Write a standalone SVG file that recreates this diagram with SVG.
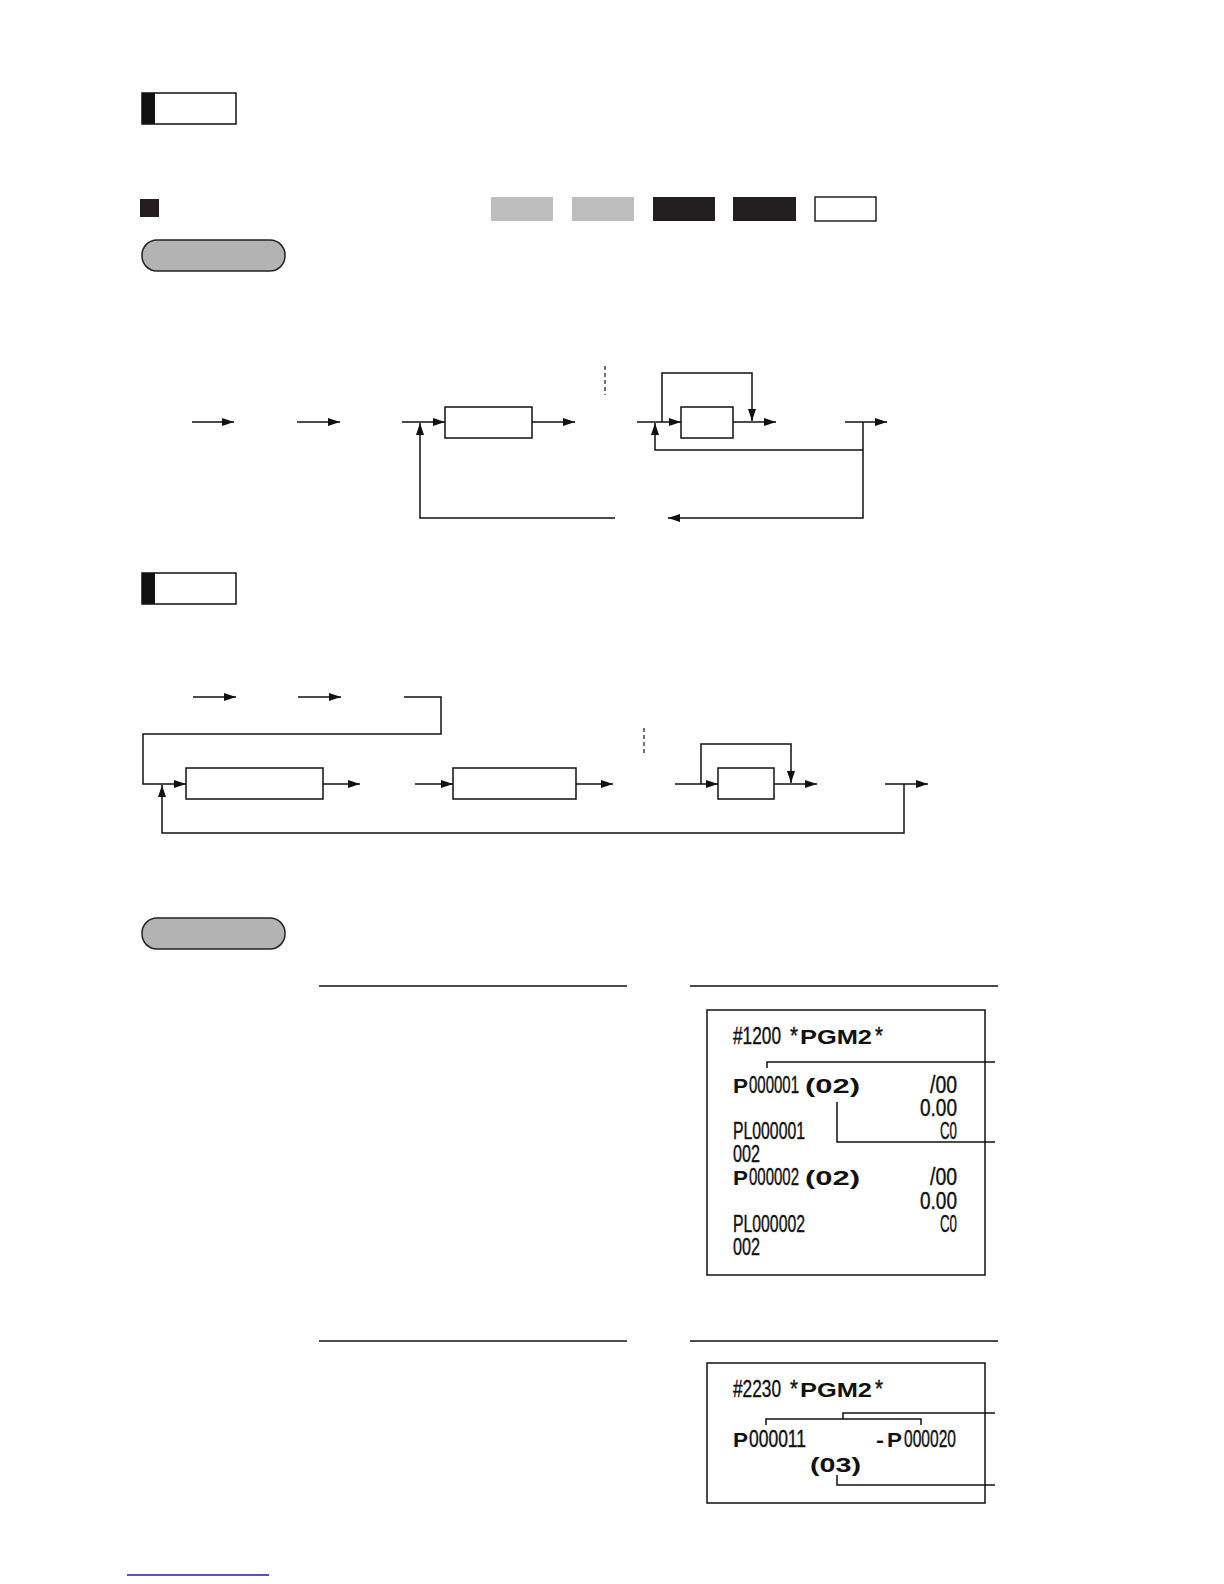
<svg xmlns="http://www.w3.org/2000/svg" width="1224" height="1584" viewBox="0 0 1224 1584">
<style>
.ln{fill:none;stroke:#111;stroke-width:1.5}
.bx{fill:#fff;stroke:#111;stroke-width:1.5}
.ar{fill:none;stroke:#111;stroke-width:1.5;marker-end:url(#ah)}
.dash{fill:none;stroke:#111;stroke-width:1.2;stroke-dasharray:4,3}
.pill{fill:#b3b3b3;stroke:#222;stroke-width:1.5}
.t{font-family:"Liberation Sans",Arial,sans-serif;fill:#111}
.n{font-size:23px;stroke:#111;stroke-width:0.4}
.b{font-size:20px;font-weight:bold}
.ld{fill:none;stroke:#111;stroke-width:1.5}
</style>
<defs>
<marker id="ah" viewBox="0 0 12 8" refX="12" refY="4" markerWidth="12" markerHeight="8" markerUnits="userSpaceOnUse" orient="auto">
<path d="M0,0 L12,4 L0,8 z" fill="#111"/>
</marker>
</defs>
<rect width="1224" height="1584" fill="#fff"/>

<g id="tab1"><rect x="142" y="93" width="94" height="31" class="bx"/><rect x="142" y="93" width="13" height="31" fill="#111"/></g>
<g id="bullet"><rect x="140" y="199" width="19" height="18" fill="#231f20"/></g>
<g id="keys">
<rect x="491" y="197" width="62" height="24" fill="#bdbdbd"/>
<rect x="572" y="197" width="62" height="24" fill="#bdbdbd"/>
<rect x="653" y="197" width="62" height="24" fill="#231f20"/>
<rect x="733" y="197" width="63" height="24" fill="#231f20"/>
<rect x="815" y="197" width="61" height="24" fill="#fff" stroke="#222" stroke-width="1.5"/>
</g>
<g id="pill1"><rect x="142" y="240" width="143" height="31" rx="15" class="pill"/></g>

<g id="d1-box1"><rect x="445" y="407" width="87" height="31" class="bx"/></g>
<g id="d1-box2"><rect x="681" y="407" width="52" height="31" class="bx"/></g>
<g id="d1-connectors">
<path d="M192,422 H234" class="ar"/>
<path d="M297,422 H340" class="ar"/>
<path d="M402,422 H445" class="ar"/>
<path d="M532,422 H575" class="ar"/>
<path d="M605,366 V395" class="dash"/>
<path d="M637,422 H681" class="ar"/>
<path d="M662,422 V373 H752 V421" class="ar"/>
<path d="M733,422 H776" class="ar"/>
<path d="M845,422 H887" class="ar"/>
<path d="M863,422 V518 H668" class="ar"/>
<path d="M863,450 H655 V423" class="ar"/>
<path d="M615,518 H420 V423" class="ar"/>
</g>

<g id="tab2"><rect x="142" y="573" width="94" height="31" class="bx"/><rect x="142" y="573" width="13" height="31" fill="#111"/></g>
<g id="d2-boxA"><rect x="186" y="768" width="137" height="31" class="bx"/></g>
<g id="d2-boxB"><rect x="453" y="768" width="123" height="31" class="bx"/></g>
<g id="d2-boxC"><rect x="718" y="768" width="56" height="31" class="bx"/></g>
<g id="d2-connectors">
<path d="M193,697 H236" class="ar"/>
<path d="M298,697 H341" class="ar"/>
<path d="M404,697 H441 V734 H143 V784 H186" class="ar"/>
<path d="M323,784 H360" class="ar"/>
<path d="M415,784 H453" class="ar"/>
<path d="M576,784 H613" class="ar"/>
<path d="M644,728 V756" class="dash"/>
<path d="M675,784 H718" class="ar"/>
<path d="M701,784 V744 H791 V783" class="ar"/>
<path d="M774,784 H817" class="ar"/>
<path d="M885,784 H928" class="ar"/>
<path d="M904,784 V833 H162 V785" class="ar"/>
</g>

<g id="pill2"><rect x="142" y="918" width="143" height="31" rx="15" class="pill"/></g>
<g id="rules">
<path d="M319,986 H627" class="ln"/>
<path d="M690,986 H998" class="ln"/>
<path d="M319,1341 H627" class="ln"/>
<path d="M690,1341 H998" class="ln"/>
</g>

<g id="receipt1">
<rect x="707" y="1010" width="278" height="265" fill="#fff" stroke="#111" stroke-width="1.5"/>
<text class="t" y="1044"><tspan class="n" x="733" textLength="48" lengthAdjust="spacingAndGlyphs">#1200</tspan><tspan class="n" x="790" textLength="8" lengthAdjust="spacingAndGlyphs">*</tspan><tspan class="b" x="800" textLength="72" lengthAdjust="spacingAndGlyphs">PGM2</tspan><tspan class="n" x="875" textLength="8" lengthAdjust="spacingAndGlyphs">*</tspan></text>
<text class="t" y="1093"><tspan class="b" x="733" textLength="15" lengthAdjust="spacingAndGlyphs">P</tspan><tspan class="n" x="749" textLength="50" lengthAdjust="spacingAndGlyphs">000001</tspan><tspan class="b" x="805" textLength="55" lengthAdjust="spacingAndGlyphs">(02)</tspan><tspan class="n" x="930" textLength="27" lengthAdjust="spacingAndGlyphs">/00</tspan></text>
<text class="t n" x="920" y="1116" textLength="37" lengthAdjust="spacingAndGlyphs">0.00</text>
<text class="t" y="1139"><tspan class="n" x="733" textLength="72" lengthAdjust="spacingAndGlyphs">PL000001</tspan><tspan class="n" x="940" textLength="17" lengthAdjust="spacingAndGlyphs">C0</tspan></text>
<text class="t n" x="733" y="1162" textLength="27" lengthAdjust="spacingAndGlyphs">002</text>
<text class="t" y="1185"><tspan class="b" x="733" textLength="15" lengthAdjust="spacingAndGlyphs">P</tspan><tspan class="n" x="749" textLength="50" lengthAdjust="spacingAndGlyphs">000002</tspan><tspan class="b" x="805" textLength="55" lengthAdjust="spacingAndGlyphs">(02)</tspan><tspan class="n" x="930" textLength="27" lengthAdjust="spacingAndGlyphs">/00</tspan></text>
<text class="t n" x="920" y="1209" textLength="37" lengthAdjust="spacingAndGlyphs">0.00</text>
<text class="t" y="1232"><tspan class="n" x="733" textLength="72" lengthAdjust="spacingAndGlyphs">PL000002</tspan><tspan class="n" x="940" textLength="17" lengthAdjust="spacingAndGlyphs">C0</tspan></text>
<text class="t n" x="733" y="1255" textLength="27" lengthAdjust="spacingAndGlyphs">002</text>
<path d="M767,1068 V1062 H995" class="ld"/>
<path d="M837,1102 V1142 H995" class="ld"/>
</g>

<g id="receipt2">
<rect x="707" y="1363" width="278" height="140" fill="#fff" stroke="#111" stroke-width="1.5"/>
<text class="t" y="1397"><tspan class="n" x="733" textLength="48" lengthAdjust="spacingAndGlyphs">#2230</tspan><tspan class="n" x="790" textLength="8" lengthAdjust="spacingAndGlyphs">*</tspan><tspan class="b" x="800" textLength="72" lengthAdjust="spacingAndGlyphs">PGM2</tspan><tspan class="n" x="875" textLength="8" lengthAdjust="spacingAndGlyphs">*</tspan></text>
<text class="t" y="1447"><tspan class="b" x="733" textLength="15" lengthAdjust="spacingAndGlyphs">P</tspan><tspan class="n" x="749" textLength="57" lengthAdjust="spacingAndGlyphs">000011</tspan><tspan class="b" x="876" textLength="8" lengthAdjust="spacingAndGlyphs">-</tspan><tspan class="b" x="887" textLength="15" lengthAdjust="spacingAndGlyphs">P</tspan><tspan class="n" x="904" textLength="52" lengthAdjust="spacingAndGlyphs">000020</tspan></text>
<text class="t b" x="810" y="1472" textLength="51" lengthAdjust="spacingAndGlyphs">(03)</text>
<path d="M766,1425 V1419 H921 V1425" class="ld"/>
<path d="M843,1419 V1413 H995" class="ld"/>
<path d="M837,1475 V1485 H995" class="ld"/>
</g>

<g id="footer"><path d="M127,1575 H269" fill="none" stroke="#1f1f8f" stroke-width="1.5"/></g>
</svg>
